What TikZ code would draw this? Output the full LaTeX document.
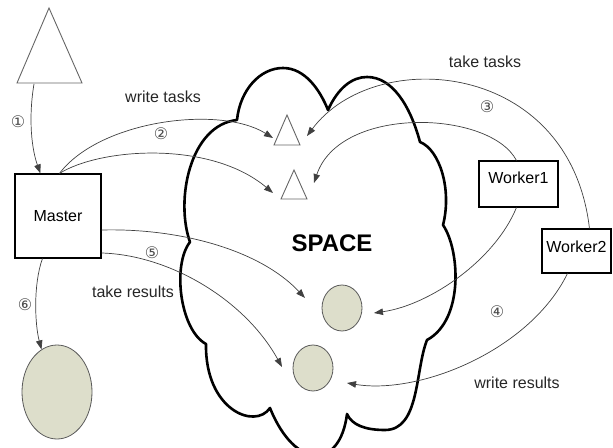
\documentclass[tikz,border=0pt]{standalone}
\usepackage{fontspec}
\setmainfont{Liberation Sans}
\newfontfamily\dejavu{DejaVu Sans}
\usetikzlibrary{arrows.meta,shapes.geometric}
\definecolor{olivegray}{HTML}{DDDECB}
\begin{document}
\begin{tikzpicture}[x=1bp,y=-1bp,
  conn/.style={draw=black!75, line width=0.7bp, -{Triangle[length=9bp,width=6.5bp]}},
  box/.style={draw, line width=1.1bp, rectangle, inner sep=0pt, font=\fontsize{16bp}{18bp}\selectfont},
  lbl/.style={font=\fontsize{16bp}{18bp}\selectfont, text=black!85, inner sep=0pt},
  num/.style={font=\dejavu\fontsize{16bp}{18bp}\selectfont, text=black!70, inner sep=0pt},
  tri/.style={draw=black!60, line width=0.9bp, fill=white},
  blob/.style={ellipse, draw=black!65, line width=0.8bp, fill=olivegray, inner sep=0pt},
  cloudline/.style={line width=2.6bp, line join=round}
]
\useasboundingbox (0,0) rectangle (613,448);
\clip (0,0) rectangle (613,448);

% cloud (SPACE)
\draw[cloudline] (237,120)
  .. controls (240,90) and (260,68) .. (283,68)
  .. controls (305,68) and (320,90) .. (328,110)
  .. controls (338,88) and (352,77) .. (367,77)
  .. controls (392,77) and (410,105) .. (420,142)
  .. controls (440,150) and (452,190) .. (443,225)
  .. controls (460,250) and (464,320) .. (427,340)
  .. controls (415,370) and (420,430) .. (385,430)
  .. controls (365,430) and (352,425) .. (347,414)
  .. controls (340,470) and (295,470) .. (270,408)
  .. controls (255,430) and (205,410) .. (206,344)
  .. controls (180,330) and (172,265) .. (190,242)
  .. controls (175,200) and (190,125) .. (237,120) -- cycle;
\node[font=\bfseries\fontsize{24bp}{26bp}\selectfont, inner sep=0pt] (space) at (332,243) {SPACE};

% boxes
\node[box, minimum width=86bp, minimum height=84bp] (master) at (58,216) {Master};
\node[box, minimum width=79bp, minimum height=46bp, text height=0pt, text depth=0pt] (w1) at (518.5,184) {Worker1};
\node[box, minimum width=69bp, minimum height=44bp, text height=4bp, text depth=0pt] (w2) at (576.5,251) {Worker2};

% circles
\node[blob, minimum width=70bp, minimum height=94bp] (bigc) at (57,392) {};
\node[blob, minimum width=40bp, minimum height=46bp] (c1) at (342,308) {};
\node[blob, minimum width=40bp, minimum height=46bp] (c2) at (313,368) {};

% triangles
\draw[tri] (49,8) -- (82,83) -- (17,83) -- cycle;
\draw[tri] (287,115) -- (300,145) -- (274,145) -- cycle;
\draw[tri] (294,170) -- (307,199) -- (281,199) -- cycle;
\coordinate (bt) at (34,84);
\coordinate (t1w) at (273,138);
\coordinate (t2w) at (273,193);
\coordinate (t1e) at (307,136);
\coordinate (t2e) at (314,183);
\coordinate (c1w) at (305,298);
\coordinate (c2w) at (282,367);
\coordinate (c1e) at (374,313);
\coordinate (c2e) at (347,383);

% connectors
\draw[conn] (bt) .. controls (28,120) and (32,150) .. ([xshift=26bp]master.north west);
\draw[conn] ([xshift=45bp]master.north west) .. controls (100,120) and (220,105) .. (t1w);
\draw[conn] ([xshift=45bp]master.north west) .. controls (100,148) and (210,140) .. (t2w);
\draw[conn] ([xshift=48bp]w2.north west) .. controls (570,60) and (375,45) .. (t1e);
\draw[conn] ([xshift=38bp]w1.north west) .. controls (490,110) and (340,105) .. (t2e);
\draw[conn] ([yshift=-14bp]master.east) .. controls (180,228) and (260,250) .. (c1w);
\draw[conn] ([yshift=-37bp]master.east) .. controls (170,255) and (245,300) .. (c2w);
\draw[conn] ([xshift=38bp]w1.south west) .. controls (495,260) and (430,305) .. (c1e);
\draw[conn] ([xshift=26bp]w2.south west) .. controls (530,350) and (420,395) .. (c2e);
\draw[conn] ([xshift=28bp]master.south west) .. controls (33,285) and (35,325) .. (bigc.110);

% labels
\node[num] (n1) at (18,122) {①};
\node[lbl] (wt) at (163,97) {write tasks};
\node[num] (n2) at (161,134) {②};
\node[lbl] (tt) at (485,62) {take tasks};
\node[num] (n3) at (487,107) {③};
\node[num] (n4) at (497,312) {④};
\node[lbl] (wr) at (517,383) {write results};
\node[num] (n5) at (152,253) {⑤};
\node[lbl] (tr) at (133,292) {take results};
\node[num] (n6) at (25,305) {⑥};
\end{tikzpicture}
\end{document}
